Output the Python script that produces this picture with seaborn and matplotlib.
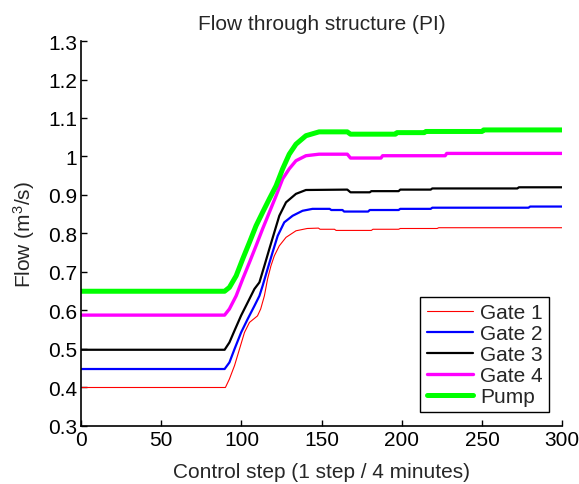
import matplotlib
matplotlib.use("Agg")
import matplotlib.pyplot as plt
import seaborn as sns
import pandas as pd

# ---- data ----
gate1_x = [0, 90, 92.5, 95.7, 98.8, 101.9, 105, 110, 112, 114.3, 116.3, 118.4, 120.5, 123.6, 127.8, 134, 141, 148, 149, 158, 159, 181, 182, 198, 199, 222, 223, 300]
gate1_y = [0.400, 0.400, 0.422, 0.457, 0.500, 0.543, 0.569, 0.586, 0.604, 0.638, 0.682, 0.716, 0.742, 0.768, 0.790, 0.807, 0.813, 0.814, 0.811, 0.811, 0.808, 0.808, 0.811, 0.811, 0.813, 0.813, 0.815, 0.815]

gate2_x = [0, 89.5, 92.5, 95.7, 99.8, 103.9, 108.1, 111.2, 113.2, 116.3, 119.4, 122.6, 126.7, 131.9, 138.1, 144.3, 155, 156, 163, 164, 179, 180, 198, 199, 218, 219, 279, 280, 300]
gate2_y = [0.448, 0.448, 0.465, 0.500, 0.543, 0.578, 0.612, 0.638, 0.664, 0.708, 0.751, 0.794, 0.829, 0.846, 0.859, 0.864, 0.864, 0.861, 0.861, 0.857, 0.857, 0.861, 0.861, 0.864, 0.864, 0.867, 0.867, 0.870, 0.870]

gate3_x = [0, 89.5, 92.5, 95.7, 99.8, 103.9, 108.1, 111.2, 114.3, 117.4, 120.5, 123.6, 127.8, 134, 140.2, 166, 168, 180, 181, 198, 199, 218, 219, 272, 273, 300]
gate3_y = [0.498, 0.498, 0.517, 0.548, 0.587, 0.621, 0.656, 0.673, 0.716, 0.760, 0.803, 0.846, 0.881, 0.903, 0.913, 0.914, 0.907, 0.907, 0.910, 0.910, 0.914, 0.914, 0.917, 0.917, 0.920, 0.920]

gate4_x = [0, 89.5, 92.5, 96.7, 100.8, 105, 109.1, 113.2, 117.4, 121.6, 125.7, 129.8, 134, 140.2, 148.4, 166, 168, 187, 188, 227, 228, 300]
gate4_y = [0.588, 0.588, 0.604, 0.638, 0.682, 0.725, 0.768, 0.812, 0.855, 0.898, 0.942, 0.968, 0.989, 1.002, 1.006, 1.006, 0.996, 0.996, 1.002, 1.002, 1.008, 1.008]

pump_x = [0, 89.5, 92.5, 96.7, 100.8, 105, 109.1, 113.2, 117.4, 121.6, 125.7, 129.8, 134, 140.2, 148.4, 166, 168, 196, 197, 214, 215, 250, 251, 300]
pump_y = [0.650, 0.650, 0.660, 0.690, 0.734, 0.777, 0.820, 0.855, 0.890, 0.924, 0.968, 1.006, 1.032, 1.054, 1.064, 1.064, 1.058, 1.058, 1.062, 1.062, 1.065, 1.065, 1.069, 1.069]

series_names = ["Gate 1", "Gate 2", "Gate 3", "Gate 4", "Pump"]
series_x = [gate1_x, gate2_x, gate3_x, gate4_x, pump_x]
series_y = [gate1_y, gate2_y, gate3_y, gate4_y, pump_y]
colors = ["#ff0000", "#0000ff", "#000000", "#ff00ff", "#00ff00"]
widths = [0.8, 1.6, 1.6, 2.4, 3.6]

x_ticks = [0, 50, 100, 150, 200, 250, 300]
y_ticks = [0.3, 0.4, 0.5, 0.6, 0.7, 0.8, 0.9, 1.0, 1.1, 1.2, 1.3]
y_tick_labels = ["0.3", "0.4", "0.5", "0.6", "0.7", "0.8", "0.9", "1", "1.1", "1.2", "1.3"]

# ---- styling ----
sns.set_style("ticks")
plt.rcParams["font.family"] = ["Liberation Sans", "DejaVu Sans"]
plt.rcParams["mathtext.fontset"] = "custom"
plt.rcParams["mathtext.rm"] = "Liberation Sans"
plt.rcParams["mathtext.it"] = "Liberation Sans"
FS = 15

fig = plt.figure(figsize=(5.79, 4.85), dpi=100)
ax = fig.add_axes([0.140, 0.1196, 0.831, 0.7938])

for name, xs, ys, c, w in zip(series_names, series_x, series_y, colors, widths):
    df = pd.DataFrame({"step": xs, "flow": ys})
    sns.lineplot(data=df, x="step", y="flow", ax=ax, color=c, linewidth=w,
                 label=name, estimator=None, sort=False)

ax.set_xlim(0, 300)
ax.set_ylim(0.3, 1.3)
ax.set_xticks(x_ticks)
ax.set_xticklabels([str(t) for t in x_ticks])
ax.set_yticks(y_ticks)
ax.set_yticklabels(y_tick_labels)
ax.tick_params(direction="in", length=4, width=1, labelsize=FS, colors="black",
               top=False, right=False, pad=3)

for s in ["top", "right"]:
    ax.spines[s].set_visible(False)
for s in ["left", "bottom"]:
    ax.spines[s].set_color("black")
    ax.spines[s].set_linewidth(1.2)

ax.set_title("Flow through structure (PI)", fontsize=FS, pad=9)
ax.set_xlabel("Control step (1 step / 4 minutes)", fontsize=FS, labelpad=9)
ax.set_ylabel("Flow (m$^3$/s)", fontsize=FS, labelpad=8)

leg = ax.legend(loc="lower right", fontsize=FS, frameon=True, fancybox=False,
                edgecolor="black", framealpha=1, borderaxespad=0.65,
                handlelength=2.2, handletextpad=0.35, labelspacing=0.1,
                borderpad=0.3)
leg.get_frame().set_linewidth(1.0)

fig.savefig("out.png", dpi=100, facecolor="white")
